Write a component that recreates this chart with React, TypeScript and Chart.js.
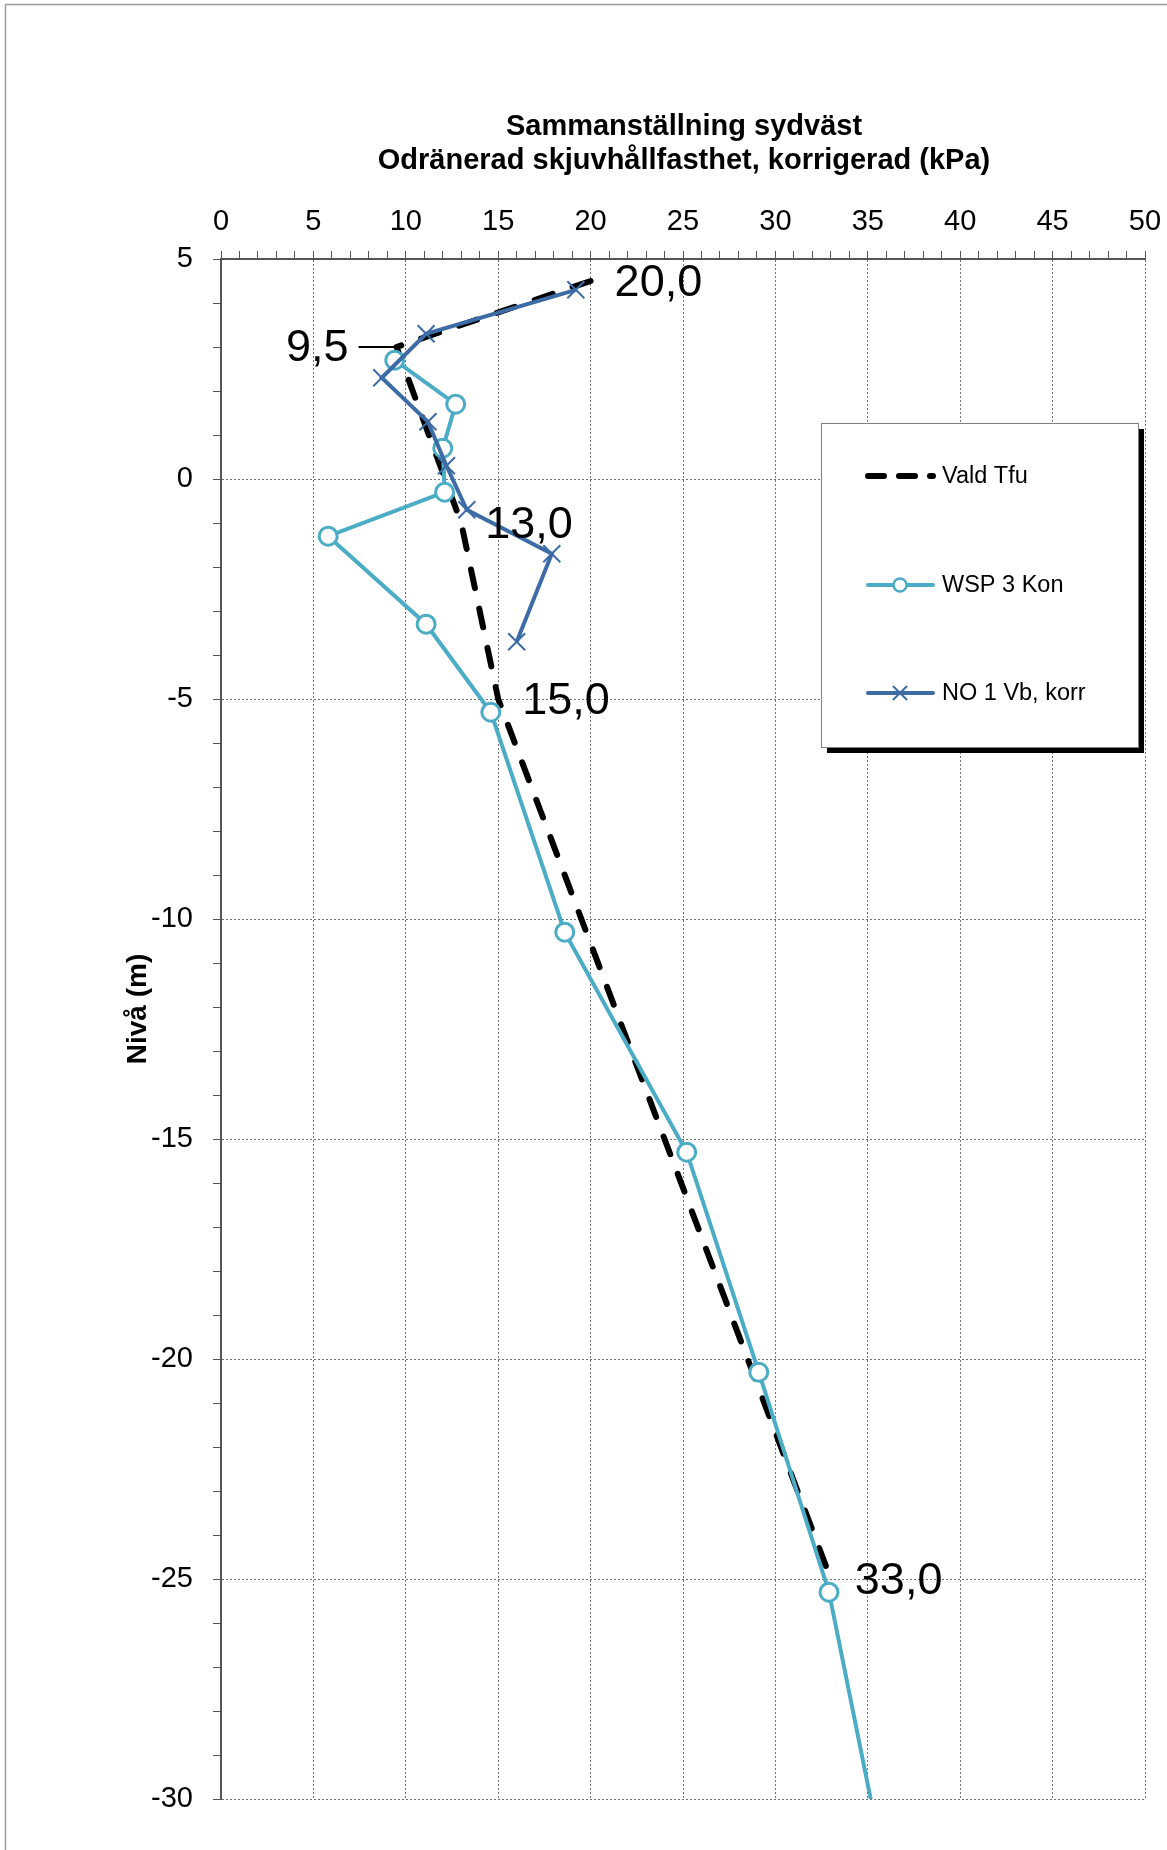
import React, { useEffect, useRef } from 'react';
import { Chart, registerables } from 'chart.js';

Chart.register(...registerables);

// ---- data ----
const valdX = [20, 9.5, 13, 15, 33];
const valdY = [4.5, 3.0, -1.0, -5.0, -25.0];

const wspX = [9.4, 12.7, 12.0, 12.1, 5.8, 11.1, 14.6, 18.6, 25.2, 29.1, 32.9, 35.3];
const wspY = [2.7, 1.7, 0.7, -0.3, -1.3, -3.3, -5.3, -10.3, -15.3, -20.3, -25.3, -30.3];

const no1X = [19.2, 11.1, 8.7, 11.2, 12.2, 13.3, 17.9, 16.0];
const no1Y = [4.3, 3.3, 2.3, 1.3, 0.3, -0.7, -1.7, -3.7];

const seriesNames = ['Vald Tfu', 'WSP 3 Kon', 'NO 1 Vb, korr'];
const titleLines = ['Sammanställning sydväst', 'Odränerad skjuvhållfasthet, korrigerad (kPa)'];
const yAxisTitle = 'Nivå (m)';
const xMin = 0, xMax = 50, xMajor = 5;
const yMin = -30, yMax = 5, yMajor = 5;
const valdLabels = valdX.map((v) => v.toFixed(1).replace('.', ','));

const FONT = '"Liberation Sans", Arial, Helvetica, sans-serif';
const C_VALD = '#000000';
const C_WSP = '#4BACC6';
const C_NO1 = '#3D6BA5';

function drawMarker(ctx: CanvasRenderingContext2D, style: string, x: number, y: number, r: number, color: string, lw: number) {
  ctx.save();
  ctx.strokeStyle = color;
  ctx.lineWidth = lw;
  ctx.setLineDash([]);
  if (style === 'circle') {
    ctx.fillStyle = '#fff';
    ctx.beginPath();
    ctx.arc(x, y, r, 0, Math.PI * 2);
    ctx.fill();
    ctx.stroke();
  } else if (style === 'crossRot') {
    const d = r * Math.SQRT1_2;
    ctx.beginPath();
    ctx.moveTo(x - d, y - d);
    ctx.lineTo(x + d, y + d);
    ctx.moveTo(x - d, y + d);
    ctx.lineTo(x + d, y - d);
    ctx.stroke();
  }
  ctx.restore();
}

const decorPlugin = {
  id: 'decor',
  beforeDraw(chart: any) {
    const ctx: CanvasRenderingContext2D = chart.ctx;
    ctx.save();
    ctx.fillStyle = '#ffffff';
    ctx.fillRect(0, 0, chart.width, chart.height);
    ctx.strokeStyle = '#9a9a9a';
    ctx.lineWidth = 1.5;
    ctx.beginPath();
    ctx.moveTo(5.5, chart.height);
    ctx.lineTo(5.5, 4.5);
    ctx.lineTo(chart.width, 4.5);
    ctx.stroke();
    ctx.restore();
  },
  afterDatasetsDraw(chart: any) {
    const ctx: CanvasRenderingContext2D = chart.ctx;
    const xs = chart.scales.x;
    const ys = chart.scales.y;
    const area = chart.chartArea;
    ctx.save();
    // titles
    ctx.fillStyle = '#000';
    ctx.textAlign = 'center';
    ctx.textBaseline = 'middle';
    ctx.font = `bold 29px ${FONT}`;
    const cx = (area.left + area.right) / 2 + 1;
    ctx.fillText(titleLines[0], cx, 127);
    ctx.fillText(titleLines[1], cx, 161);
    // y axis title
    ctx.save();
    ctx.font = `bold 28px ${FONT}`;
    ctx.translate(138, (area.top + area.bottom) / 2 - 20);
    ctx.rotate(-Math.PI / 2);
    ctx.fillText(yAxisTitle, 0, 0);
    ctx.restore();

    // value annotations on Vald Tfu
    ctx.font = `45px ${FONT}`;
    valdX.forEach((v, i) => {
      const px = xs.getPixelForValue(v);
      const py = ys.getPixelForValue(valdY[i]);
      if (i === 1) {
        ctx.textAlign = 'right';
        ctx.fillText(valdLabels[i], px - 48, py + 2);
        ctx.strokeStyle = '#000';
        ctx.lineWidth = 2;
        ctx.beginPath();
        ctx.moveTo(px - 38, py);
        ctx.lineTo(px, py);
        ctx.stroke();
      } else {
        ctx.textAlign = 'left';
        ctx.fillText(valdLabels[i], px + 24, py + 3);
      }
    });

    // legend
    const L = { x: 821, y: 423, w: 317, h: 324 };
    ctx.fillStyle = '#000';
    ctx.fillRect(L.x + 6, L.y + 6, L.w, L.h);
    ctx.fillStyle = '#fff';
    ctx.fillRect(L.x, L.y, L.w, L.h);
    ctx.strokeStyle = '#7f7f7f';
    ctx.lineWidth = 1;
    ctx.strokeRect(L.x + 0.5, L.y + 0.5, L.w, L.h);
    const rows = [476, 585, 693];
    const legendDash = [[16, 15], [], []];
    chart.data.datasets.forEach((ds: any, i: number) => {
      const y = rows[i];
      ctx.save();
      ctx.strokeStyle = ds.borderColor;
      ctx.lineWidth = ds.borderWidth;
      ctx.lineCap = 'round';
      ctx.setLineDash(legendDash[i]);
      ctx.beginPath();
      ctx.moveTo(868, y);
      ctx.lineTo(933, y);
      ctx.stroke();
      ctx.restore();
      if (ds.pointRadius > 0) {
        drawMarker(ctx, ds.pointStyle, 900, y, ds.pointStyle === 'circle' ? 6.5 : 10, ds.pointBorderColor, ds.pointStyle === 'circle' ? 2.5 : 2);
      }
      ctx.fillStyle = '#000';
      ctx.textAlign = 'left';
      ctx.textBaseline = 'middle';
      ctx.font = `23.5px ${FONT}`;
      ctx.fillText(ds.label, 942, y + 1);
    });
    ctx.restore();
  },
};

const gridColor = (c: any) => (c.tick && Math.round(c.tick.value) % 5 === 0 ? '#6f6f6f' : 'rgba(0,0,0,0)');

export default function App() {
  const ref = useRef<HTMLCanvasElement>(null);
  useEffect(() => {
    Chart.defaults.font.family = FONT;
    const chart = new Chart(ref.current as HTMLCanvasElement, {
      type: 'scatter',
      data: {
        datasets: [
          {
            label: seriesNames[0],
            data: valdX.map((x, i) => ({ x, y: valdY[i] })),
            showLine: true,
            borderColor: C_VALD,
            backgroundColor: C_VALD,
            borderWidth: 6,
            borderDash: [19, 21],
            borderCapStyle: 'round',
            borderJoinStyle: 'round',
            pointRadius: 0,
            order: 3,
          },
          {
            label: seriesNames[1],
            data: wspX.map((x, i) => ({ x, y: wspY[i] })),
            showLine: true,
            borderColor: C_WSP,
            backgroundColor: '#fff',
            borderWidth: 4,
            pointStyle: 'circle',
            pointRadius: 9,
            pointBorderWidth: 3,
            pointBorderColor: C_WSP,
            pointBackgroundColor: '#ffffff',
            order: 2,
          },
          {
            label: seriesNames[2],
            data: no1X.map((x, i) => ({ x, y: no1Y[i] })),
            showLine: true,
            borderColor: C_NO1,
            backgroundColor: C_NO1,
            borderWidth: 4,
            pointStyle: 'crossRot',
            pointRadius: 12,
            pointBorderWidth: 2,
            pointBorderColor: C_NO1,
            order: 1,
          },
        ],
      } as any,
      options: {
        animation: false,
        responsive: true,
        maintainAspectRatio: false,
        events: [],
        layout: { padding: { left: 0, top: 0, right: 22, bottom: 51 } },
        plugins: {
          legend: { display: false },
          title: { display: false },
          tooltip: { enabled: false },
        },
        scales: {
          x: {
            type: 'linear',
            position: 'top',
            min: xMin,
            max: xMax,
            ticks: {
              stepSize: 1,
              autoSkip: false,
              maxRotation: 0,
              padding: 12,
              color: '#000',
              font: { family: FONT, size: 29 },
              callback: (v: any) => (Math.round(v) % xMajor === 0 ? String(v) : ''),
            },
            grid: {
              color: gridColor,
              lineWidth: 1,
              tickLength: 8,
              tickColor: '#555',
              tickWidth: 1,
            },
            border: { display: true, color: '#555', width: 2, dash: [2, 2] },
            afterFit: (s: any) => {
              s.height = 259;
              s.paddingLeft = 0;
              s.paddingRight = 0;
            },
          },
          y: {
            type: 'linear',
            position: 'left',
            min: yMin,
            max: yMax,
            ticks: {
              stepSize: 1,
              autoSkip: false,
              padding: 20,
              color: '#000',
              font: { family: FONT, size: 29 },
              callback: (v: any) => (Math.round(v) % yMajor === 0 ? String(v) : ''),
            },
            grid: {
              color: gridColor,
              lineWidth: 1,
              tickLength: 8,
              tickColor: '#555',
              tickWidth: 1,
            },
            border: { display: true, color: '#555', width: 2, dash: [2, 2] },
            afterFit: (s: any) => {
              s.width = 221;
              s.paddingTop = 0;
              s.paddingBottom = 0;
            },
          },
        },
      } as any,
      plugins: [decorPlugin],
    });
    return () => chart.destroy();
  }, []);
  return (
    <div style={{ position: 'absolute', left: 0, top: 0, width: 1167, height: 1850 }}>
      <canvas ref={ref} />
    </div>
  );
}
